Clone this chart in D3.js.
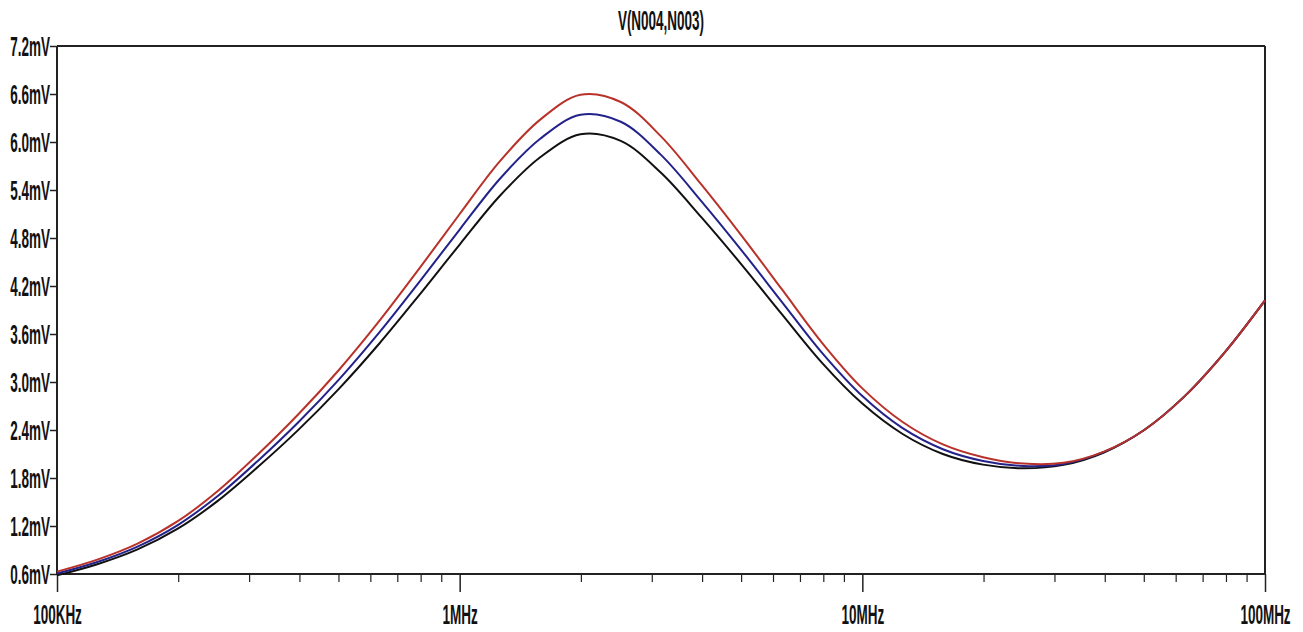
<!DOCTYPE html>
<html>
<head>
<meta charset="utf-8">
<script src="https://cdn.jsdelivr.net/npm/d3@7"></script>
<style>
  html, body { margin: 0; padding: 0; background: #fff; }
  svg text { font-family: "Liberation Sans", Arial, sans-serif; font-weight: bold; fill: #111; }
</style>
</head>
<body>
<div id="chart"></div>
<script>
const TITLE = 'V(N004,N003)';

// frequency points (Hz), 10 per decade
const freqs = [
  1e5, 1.259e5, 1.585e5, 1.995e5, 2.512e5, 3.162e5, 3.981e5, 5.012e5, 6.31e5, 7.943e5,
  1e6, 1.259e6, 1.585e6, 1.995e6, 2.512e6, 3.162e6, 3.981e6, 5.012e6, 6.31e6, 7.943e6,
  1e7, 1.259e7, 1.585e7, 1.995e7, 2.512e7, 3.162e7, 3.981e7, 5.012e7, 6.31e7, 7.943e7,
  1e8
];

// V(N004,N003) in mV
const redTrace = [
  0.63, 0.78, 0.98, 1.26, 1.64, 2.10, 2.60, 3.15, 3.76, 4.42,
  5.10, 5.76, 6.28, 6.59, 6.50, 6.07, 5.47, 4.83, 4.16, 3.49,
  2.92, 2.50, 2.22, 2.06, 1.98, 1.99, 2.13, 2.40, 2.82, 3.37,
  4.02
];
const blueTrace = [
  0.606, 0.750, 0.943, 1.212, 1.578, 2.020, 2.501, 3.030, 3.617, 4.252,
  4.906, 5.541, 6.041, 6.340, 6.253, 5.839, 5.262, 4.646, 4.002, 3.364,
  2.824, 2.423, 2.160, 2.013, 1.950, 1.976, 2.126, 2.40, 2.82, 3.37,
  4.02
];
const blackTrace = [
  0.583, 0.722, 0.907, 1.166, 1.517, 1.943, 2.405, 2.914, 3.478, 4.089,
  4.718, 5.328, 5.809, 6.096, 6.013, 5.615, 5.060, 4.468, 3.848, 3.239,
  2.730, 2.350, 2.100, 1.967, 1.921, 1.964, 2.119, 2.40, 2.82, 3.37,
  4.02
];

const yTicks = [0.6, 1.2, 1.8, 2.4, 3.0, 3.6, 4.2, 4.8, 5.4, 6.0, 6.6, 7.2];
const xMajor = [1e5, 1e6, 1e7, 1e8];
const xMajorLabels = ['100KHz', '1MHz', '10MHz', '100MHz'];

const width = 1303, height = 632;
const margin = { top: 46, right: 38, bottom: 58, left: 57 };
const TEXT_SX = 0.5;
const FONT_SIZE = 27;

const svg = d3.select('#chart').append('svg')
  .attr('width', width)
  .attr('height', height);

const x = d3.scaleLog()
  .domain([1e5, 1e8])
  .range([margin.left, width - margin.right]);

const y = d3.scaleLinear()
  .domain([0.6, 7.2])
  .range([height - margin.bottom, margin.top]);

// minor ticks 2..9 each decade
const xMinor = [];
xMajor.slice(0, -1).forEach(d => {
  for (let k = 2; k <= 9; k++) xMinor.push(d * k);
});

const bottom = height - margin.bottom;

// minor ticks
svg.append('g')
  .attr('transform', `translate(0,${bottom})`)
  .call(d3.axisBottom(x).tickValues(xMinor).tickSize(8).tickFormat(''))
  .call(g => g.select('.domain').remove())
  .call(g => g.selectAll('line').attr('stroke', '#222').attr('stroke-width', 1.2));

// major ticks + labels
svg.append('g')
  .attr('transform', `translate(0,${bottom})`)
  .call(d3.axisBottom(x).tickValues(xMajor).tickSize(18).tickFormat((d, i) => xMajorLabels[i]))
  .call(g => g.select('.domain').remove())
  .call(g => g.selectAll('line').attr('stroke', '#222').attr('stroke-width', 1.5))
  .call(g => g.selectAll('text')
    .attr('y', 0).attr('dy', 0)
    .attr('transform', `translate(0,50) scale(${TEXT_SX},1)`)
    .attr('font-size', FONT_SIZE));

// y axis
svg.append('g')
  .attr('transform', `translate(${margin.left},0)`)
  .call(d3.axisLeft(y).tickValues(yTicks).tickSize(7).tickFormat(d => d.toFixed(1) + 'mV'))
  .call(g => g.select('.domain').remove())
  .call(g => g.selectAll('line').attr('stroke', '#222').attr('stroke-width', 1.5))
  .call(g => g.selectAll('text')
    .attr('x', 0).attr('dy', 0)
    .attr('transform', `translate(-7,9.5) scale(${TEXT_SX},1)`)
    .attr('font-size', FONT_SIZE));

// frame: top, bottom, left, right
const frame = svg.append('g').attr('stroke', '#222').attr('stroke-width', 2).attr('fill', 'none');
frame.append('line').attr('x1', x(1e5)).attr('x2', x(1e8)).attr('y1', y(7.2)).attr('y2', y(7.2));
frame.append('line').attr('x1', x(1e5)).attr('x2', x(1e8)).attr('y1', bottom).attr('y2', bottom);
frame.append('line').attr('x1', x(1e5)).attr('x2', x(1e5)).attr('y1', y(7.2)).attr('y2', bottom);
frame.append('line').attr('x1', x(1e8)).attr('x2', x(1e8)).attr('y1', y(7.2)).attr('y2', bottom);

// title
svg.append('text')
  .attr('transform', `translate(${(x(1e5) + x(1e8)) / 2},30) scale(${TEXT_SX},1)`)
  .attr('text-anchor', 'middle')
  .attr('font-size', FONT_SIZE)
  .text(TITLE);

const line = d3.line()
  .x((d, i) => x(freqs[i]))
  .y(d => y(d))
  .curve(d3.curveCatmullRom.alpha(0.5));

const traces = [
  { values: blackTrace, color: '#111111' },
  { values: blueTrace, color: '#22228a' },
  { values: redTrace, color: '#b8322a' }
];

svg.append('g')
  .selectAll('path.trace')
  .data(traces)
  .join('path')
  .attr('class', 'trace')
  .attr('d', d => line(d.values))
  .attr('fill', 'none')
  .attr('stroke', d => d.color)
  .attr('stroke-width', 2);
</script>
</body>
</html>
